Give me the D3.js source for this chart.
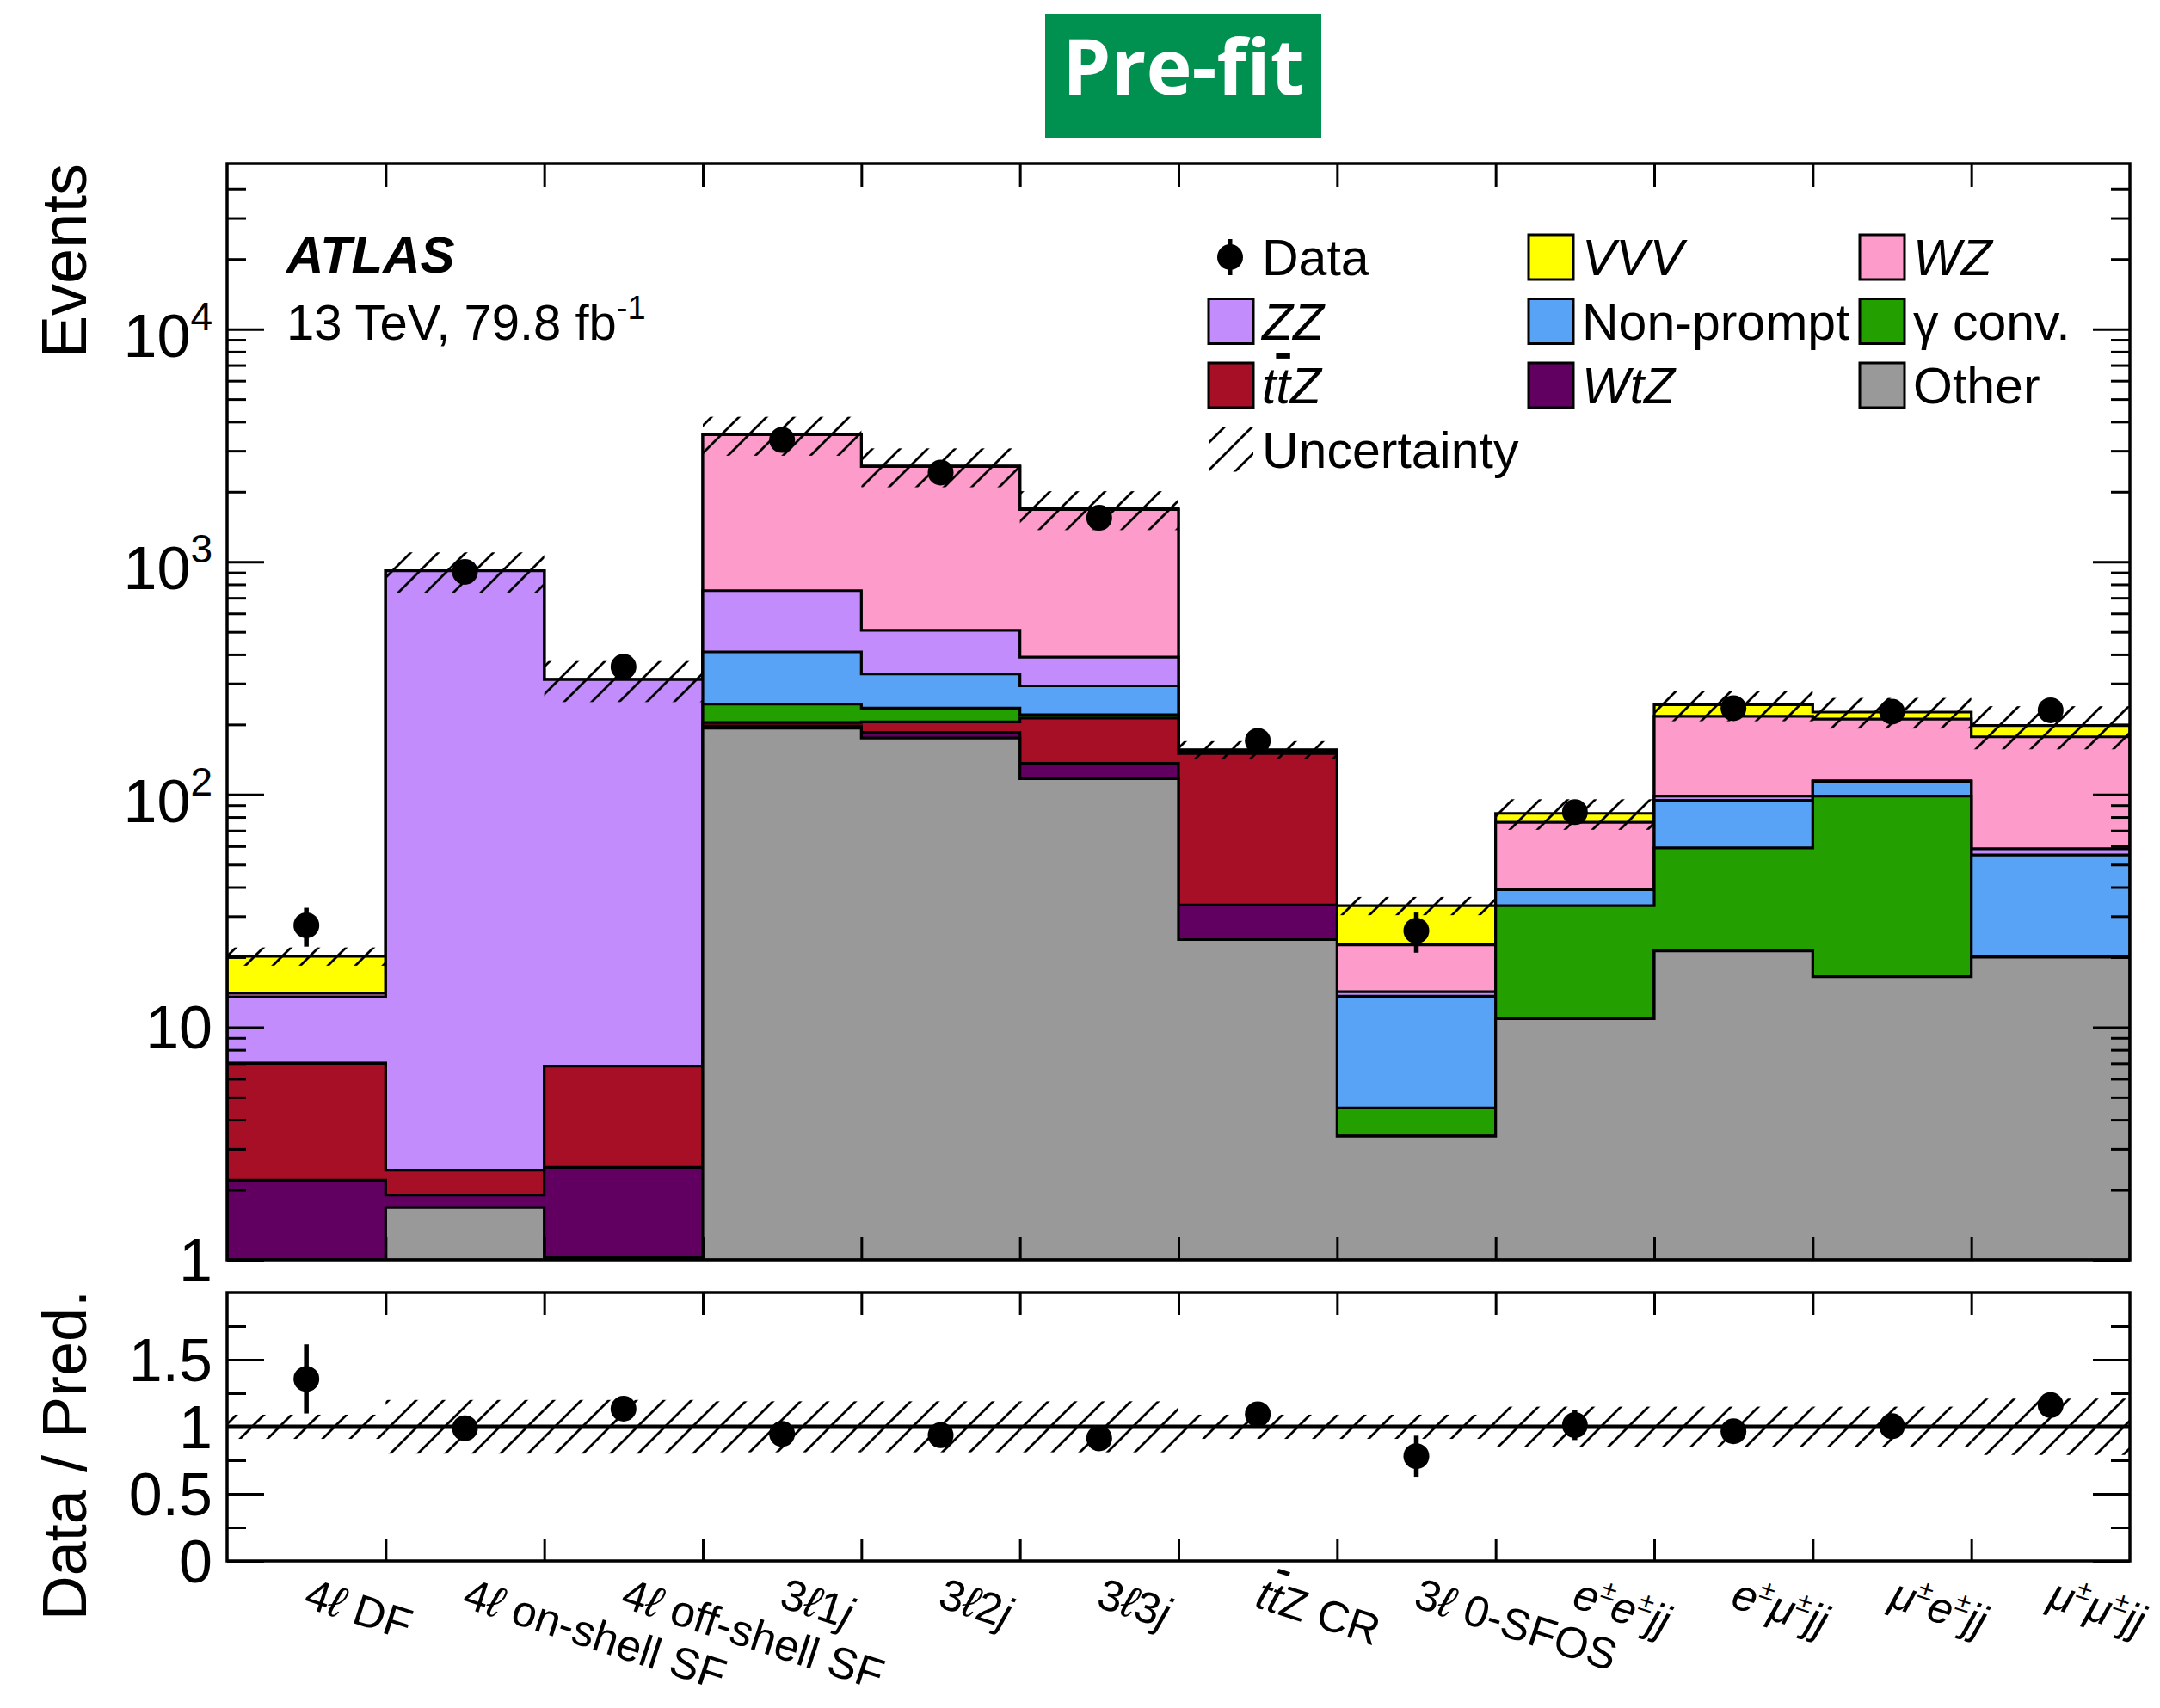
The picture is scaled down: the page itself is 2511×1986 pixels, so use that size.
<!DOCTYPE html>
<html>
<head>
<meta charset="utf-8">
<script src="https://cdn.jsdelivr.net/npm/d3@7"></script>
<style>
  html, body { margin: 0; padding: 0; background: #fff; }
  svg text { font-family: "Liberation Sans", Arial, Helvetica, sans-serif; fill: #000; }
</style>
</head>
<body>
<svg id="chart" width="2511" height="1986"></svg>
<script>
// ---- Regions (bins). {..} italic, [..] italic with bar, ^x superscript ----
const categories = [
  "4{ℓ} DF", "4{ℓ} on-shell SF", "4{ℓ} off-shell SF",
  "3{ℓ}1{j}", "3{ℓ}2{j}", "3{ℓ}3{j}", "{t}[t]Z CR", "3{ℓ} 0-SFOS",
  "{e}^±{e}^±{jj}", "{e}^±{μ}^±{jj}", "{μ}^±{e}^±{jj}", "{μ}^±{μ}^±{jj}"
];

// ---- Expected yields per process (stacked bottom to top) ----
const otherYield     = [0.4, 1.68, 1.02, 193, 175, 117, 23.8, 3.4, 10.9, 21.3, 16.5, 20.0];
const wtzYield       = [1.8, 0.22, 1.48, 4, 10, 19, 9.7, 0, 0, 0, 0, 0];
const ttzYield       = [4.8, 0.53, 4.3, 7, 20, 77, 116.5, 0, 0, 0, 0, 0];
const gconvYield     = [0, 0, 0, 41, 30, 7, 0, 1.1, 22.4, 37.7, 82, 0];
const nonpromptYield = [0, 0, 0, 165, 95, 73, 2, 9.1, 5.7, 35.5, 15.5, 35];
const zzYield        = [6.5, 912.6, 305.2, 342, 178, 96, 1, 0.6, 0.3, 4, 0.5, 3.5];
const wzYield        = [0.5, 0, 0, 2768, 2062, 1291, 2, 8.4, 36.7, 118.5, 96.5, 118.5];
const vvvYield       = [6.2, 0, 0, 8, 12, 10, 0.5, 10.7, 7, 26, 15, 21];

// ---- Observed data and uncertainties ----
const dataYield = [27.4, 905, 354, 3340, 2420, 1545, 170, 26, 84, 235, 227, 230];
const dataErr   = [5.2, 30, 19, 58, 49, 39, 13, 5.1, 9.2, 15.3, 15.1, 15.2];
const relUnc    = [0.09, 0.2, 0.2, 0.19, 0.19, 0.19, 0.09, 0.09, 0.15, 0.15, 0.15, 0.21];

// ---- Axis ticks ----
const yMajorTicks = [1, 10, 100, 1000, 10000];
const ratioMajorTicks = [0, 0.5, 1, 1.5];
const ratioMinorTicks = [0.25, 0.75, 1.25, 1.75];

// ---- Processes and legend ----
const stackKeys = ["other", "wtz", "ttz", "gconv", "nonprompt", "zz", "wz", "vvv"];
const stackYields = {
  other: otherYield, wtz: wtzYield, ttz: ttzYield, gconv: gconvYield,
  nonprompt: nonpromptYield, zz: zzYield, wz: wzYield, vvv: vvvYield
};
const seriesLabels = {
  data: "Data", vvv: "{VVV}", wz: "{WZ}", zz: "{ZZ}", nonprompt: "Non-prompt",
  gconv: "γ\u00a0conv.", ttz: "{t}[t]{Z}", wtz: "{WtZ}", other: "Other", unc: "Uncertainty"
};
const legendOrder = ["data", "vvv", "wz", "zz", "nonprompt", "gconv", "ttz", "wtz", "other", "unc"];
const fills = {
  other: "#999999", wtz: "#610061", ttz: "#a60f25", gconv: "#23a000",
  nonprompt: "#58a3f5", zz: "#c38cfd", wz: "#fd9bcb", vvv: "#ffff00"
};

// ---- Layout ----
const L = 264, R = 2476;
const mainTop = 190, mainBot = 1465;
const ratTop = 1503, ratBot = 1815;
const n = categories.length;

const svg = d3.select("#chart");
const defs = svg.append("defs");

// 45 degree hatching for the uncertainty band
defs.append("pattern")
  .attr("id", "hatch").attr("patternUnits", "userSpaceOnUse")
  .attr("width", 32).attr("height", 32)
  .append("path")
  .attr("d", "M-8,8L8,-8M0,32L32,0M24,40L40,24")
  .attr("stroke", "#000").attr("stroke-width", 2.8).attr("fill", "none");

defs.append("clipPath").attr("id", "clipMain")
  .append("rect").attr("x", L).attr("y", mainTop).attr("width", R - L).attr("height", mainBot - mainTop);
defs.append("clipPath").attr("id", "clipRatio")
  .append("rect").attr("x", L).attr("y", ratTop).attr("width", R - L).attr("height", ratBot - ratTop);

const x = d3.scaleLinear().domain([0, n]).range([L, R]);
const yLog = d3.scaleLog().domain([1, Math.pow(10, 4.712)]).range([mainBot, mainTop]).clamp(true);
const y = v => yLog(Math.max(v, 0.1));
const yr = d3.scaleLinear().domain([0, 2]).range([ratBot, ratTop]);

// Rich text helper: italic, overlined-italic and superscript runs
function rich(textSel, str, fs) {
  const tokens = str.match(/\{[^}]*\}|\[[^\]]*\]|\^.|[^{[\^]+/g);
  let pendingDown = 0;
  tokens.forEach(tok => {
    const t = textSel.append("tspan");
    if (pendingDown) { t.attr("dy", pendingDown); pendingDown = 0; }
    if (tok[0] === "{") {
      t.text(tok.slice(1, -1)).attr("font-style", "italic");
    } else if (tok[0] === "[") {
      t.text(tok.slice(1, -1)).attr("font-style", "italic").attr("text-decoration", "overline");
    } else if (tok[0] === "^") {
      const up = 0.42 * fs;
      t.text(tok.slice(1)).attr("font-size", 0.62 * fs).attr("dy", -up);
      pendingDown = up;
    } else {
      t.text(tok);
    }
  });
}

// ---- Stacked histogram ----
const rows = categories.map((c, i) => {
  const r = {};
  stackKeys.forEach(k => { r[k] = stackYields[k][i]; });
  return r;
});
const stacked = d3.stack().keys(stackKeys)(rows);
const total = stacked[stacked.length - 1].map(d => d[1]);

const area = d3.area()
  .curve(d3.curveStepAfter)
  .x(d => x(d[0]))
  .y0(mainBot)
  .y1(d => y(d[1]));

const gMain = svg.append("g").attr("clip-path", "url(#clipMain)");
stacked.slice().reverse().forEach(layer => {
  const pts = layer.map((d, i) => [i, d[1]]);
  pts.push([n, layer[n - 1][1]]);
  gMain.append("path")
    .attr("d", area(pts))
    .attr("fill", fills[layer.key])
    .attr("stroke", "#000").attr("stroke-width", 3.2)
    .attr("stroke-linejoin", "miter");
});

// Uncertainty band on the total prediction
gMain.selectAll("rect.unc").data(total).join("rect")
  .attr("class", "unc")
  .attr("x", (d, i) => x(i)).attr("width", (d, i) => x(i + 1) - x(i))
  .attr("y", (d, i) => y(d * (1 + relUnc[i])))
  .attr("height", (d, i) => y(d * (1 - relUnc[i])) - y(d * (1 + relUnc[i])))
  .attr("fill", "url(#hatch)");

// Data points
gMain.selectAll("line.err").data(dataYield).join("line")
  .attr("class", "err")
  .attr("x1", (d, i) => x(i + 0.5)).attr("x2", (d, i) => x(i + 0.5))
  .attr("y1", (d, i) => y(d - dataErr[i])).attr("y2", (d, i) => y(d + dataErr[i]))
  .attr("stroke", "#000").attr("stroke-width", 5.5);
gMain.selectAll("circle.pt").data(dataYield).join("circle")
  .attr("class", "pt")
  .attr("cx", (d, i) => x(i + 0.5)).attr("cy", d => y(d)).attr("r", 15)
  .attr("fill", "#000");

// ---- Ratio panel ----
const gRat = svg.append("g").attr("clip-path", "url(#clipRatio)");
gRat.selectAll("rect.unc").data(relUnc).join("rect")
  .attr("class", "unc")
  .attr("x", (d, i) => x(i)).attr("width", (d, i) => x(i + 1) - x(i))
  .attr("y", d => yr(1 + d)).attr("height", d => yr(1 - d) - yr(1 + d))
  .attr("fill", "url(#hatch)");
gRat.append("line")
  .attr("x1", L).attr("x2", R).attr("y1", yr(1)).attr("y2", yr(1))
  .attr("stroke", "#000").attr("stroke-width", 5);

const ratio = dataYield.map((d, i) => d / total[i]);
const ratioErr = dataErr.map((e, i) => e / total[i]);
gRat.selectAll("line.err").data(ratio).join("line")
  .attr("class", "err")
  .attr("x1", (d, i) => x(i + 0.5)).attr("x2", (d, i) => x(i + 0.5))
  .attr("y1", (d, i) => yr(d - ratioErr[i])).attr("y2", (d, i) => yr(d + ratioErr[i]))
  .attr("stroke", "#000").attr("stroke-width", 5.5);
gRat.selectAll("circle.pt").data(ratio).join("circle")
  .attr("class", "pt")
  .attr("cx", (d, i) => x(i + 0.5)).attr("cy", d => yr(d)).attr("r", 15)
  .attr("fill", "#000");

// ---- Ticks (pointing inward, ROOT style) ----
function tickGroup(axisFn, scale, vals, size, tx, ty) {
  const g = svg.append("g").attr("transform", `translate(${tx},${ty})`);
  g.call(axisFn(scale).tickValues(vals).tickSize(-size).tickFormat(""));
  g.select(".domain").remove();
  g.selectAll(".tick line").attr("stroke", "#000").attr("stroke-width", 3);
  return g;
}
const yMax = yLog.domain()[1];
const yMinor = [];
yMajorTicks.forEach(dec => { for (let m = 2; m <= 9; m++) { if (dec * m < yMax * 0.95) yMinor.push(dec * m); } });

tickGroup(d3.axisLeft, yLog, yMajorTicks, 43, L, 0);
tickGroup(d3.axisLeft, yLog, yMinor, 22, L, 0);
tickGroup(d3.axisRight, yLog, yMajorTicks, 43, R, 0);
tickGroup(d3.axisRight, yLog, yMinor, 22, R, 0);
const xEdges = d3.range(1, n);
tickGroup(d3.axisBottom, x, xEdges, 27, 0, mainBot);
tickGroup(d3.axisTop, x, xEdges, 27, 0, mainTop);

tickGroup(d3.axisLeft, yr, ratioMajorTicks, 43, L, 0);
tickGroup(d3.axisLeft, yr, ratioMinorTicks, 22, L, 0);
tickGroup(d3.axisRight, yr, ratioMajorTicks, 43, R, 0);
tickGroup(d3.axisRight, yr, ratioMinorTicks, 22, R, 0);
tickGroup(d3.axisBottom, x, xEdges, 26, 0, ratBot);
tickGroup(d3.axisTop, x, xEdges, 26, 0, ratTop);

// Frames
svg.append("rect").attr("x", L).attr("y", mainTop).attr("width", R - L).attr("height", mainBot - mainTop)
  .attr("fill", "none").attr("stroke", "#000").attr("stroke-width", 3.5);
svg.append("rect").attr("x", L).attr("y", ratTop).attr("width", R - L).attr("height", ratBot - ratTop)
  .attr("fill", "none").attr("stroke", "#000").attr("stroke-width", 3.5);

// ---- Tick labels ----
const labFs = 70;
yMajorTicks.forEach(v => {
  const exp = Math.round(Math.log10(v));
  const t = svg.append("text").attr("x", 247).attr("text-anchor", "end").attr("font-size", labFs);
  if (exp >= 2) {
    t.attr("y", y(v) + 32);
    t.append("tspan").text("10");
    t.append("tspan").text(exp).attr("font-size", 46).attr("dy", -31);
  } else {
    t.attr("y", y(v) + 25).text(exp === 0 ? "1" : "10");
  }
});
ratioMajorTicks.forEach(v => {
  svg.append("text").attr("x", 247).attr("y", yr(v) + 25)
    .attr("text-anchor", "end").attr("font-size", labFs)
    .text(d3.format("~g")(v));
});

// Axis titles
svg.append("text").attr("transform", "translate(100,190) rotate(-90)")
  .attr("text-anchor", "end").attr("font-size", 74).text("Events");
svg.append("text").attr("transform", "translate(100,1500) rotate(-90)")
  .attr("text-anchor", "end").attr("font-size", 72).text("Data / Pred.");

// Region labels
const catFs = 51;
categories.forEach((c, i) => {
  const t = svg.append("text")
    .attr("transform", `translate(${x(i + 0.5) - 5},1868) rotate(18)`)
    .attr("font-size", catFs);
  rich(t, c, catFs);
});

// ---- ATLAS label ----
svg.append("text").attr("x", 333).attr("y", 317)
  .attr("font-size", 60).attr("font-weight", "bold").attr("font-style", "italic").text("ATLAS");
const lumi = svg.append("text").attr("x", 333).attr("y", 395).attr("font-size", 58);
lumi.append("tspan").text("13 TeV, 79.8 fb");
lumi.append("tspan").text("-1").attr("font-size", 38).attr("dy", -24);

// ---- Legend ----
const legColX = [1405, 1777, 2162];
const legRowY0 = 299, legRowStep = 74.5, legBox = 52, legFs = 59;
legendOrder.forEach((key, i) => {
  const cx = legColX[i % 3];
  const cy = legRowY0 + Math.floor(i / 3) * legRowStep;
  const g = svg.append("g");
  if (key === "data") {
    g.append("line").attr("x1", cx + 25).attr("x2", cx + 25).attr("y1", cy - 21).attr("y2", cy + 21)
      .attr("stroke", "#000").attr("stroke-width", 5);
    g.append("circle").attr("cx", cx + 25).attr("cy", cy).attr("r", 15).attr("fill", "#000");
  } else if (key === "unc") {
    g.append("rect").attr("x", cx).attr("y", cy - legBox / 2).attr("width", legBox).attr("height", legBox)
      .attr("fill", "url(#hatch)");
  } else {
    g.append("rect").attr("x", cx).attr("y", cy - legBox / 2).attr("width", legBox).attr("height", legBox)
      .attr("fill", fills[key]).attr("stroke", "#000").attr("stroke-width", 3);
  }
  const t = g.append("text").attr("x", cx + 62).attr("y", cy + 21).attr("font-size", legFs);
  rich(t, seriesLabels[key], legFs);
});

// ---- Title badge ----
svg.append("rect").attr("x", 1215).attr("y", 16).attr("width", 321).attr("height", 144).attr("fill", "#00904f");
svg.append("text").attr("x", 1375.5).attr("y", 110).attr("text-anchor", "middle")
  .attr("font-size", 90).attr("font-weight", "bold")
  .style("font-family", "'Open Sans', 'Noto Sans', sans-serif")
  .style("fill", "#fff").text("Pre-fit");
</script>
</body>
</html>
